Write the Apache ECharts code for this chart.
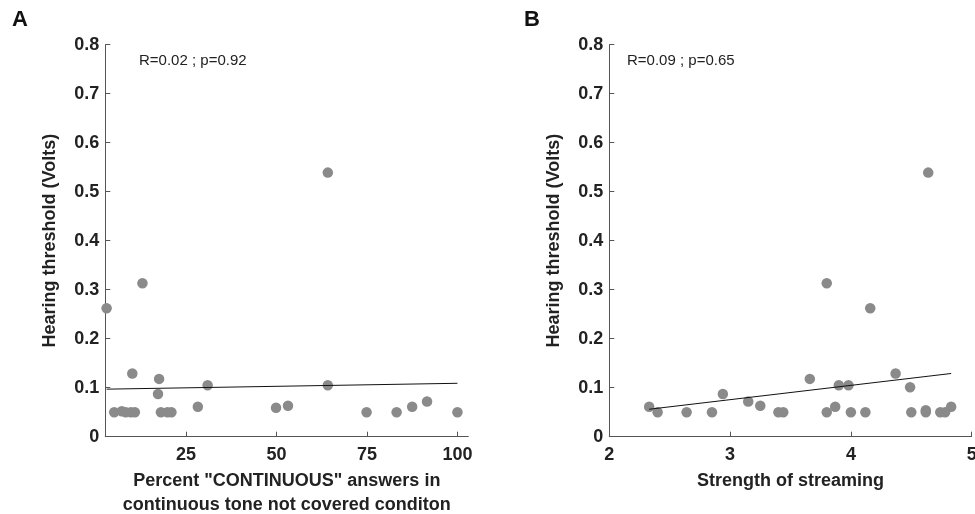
<!DOCTYPE html>
<html>
<head>
<meta charset="utf-8">
<script src="https://cdn.jsdelivr.net/npm/echarts@6/dist/echarts.min.js"></script>
<style>
html,body{margin:0;padding:0;background:#fff;}
#chart{width:975px;height:514px;}
</style>
</head>
<body>
<div id="chart"></div>
<script>
// Panel A: Percent "CONTINUOUS" answers vs hearing threshold
const aX = [3.1, 13.0, 64.2, 10.2, 17.6, 17.3, 31.0, 64.2, 5.2, 7.3, 8.4, 9.8, 10.9, 18.1, 19.9, 21.0, 28.3, 49.9, 53.2, 74.9, 83.2, 87.5, 91.6, 100];
const aY = [0.262, 0.313, 0.539, 0.129, 0.118, 0.087, 0.105, 0.105, 0.050, 0.052, 0.050, 0.050, 0.050, 0.050, 0.050, 0.050, 0.061, 0.059, 0.063, 0.050, 0.050, 0.061, 0.072, 0.050];
const aFitX = [3.1, 100];
const aFitY = [0.097, 0.109];

// Panel B: Strength of streaming vs hearing threshold
const bX = [2.33, 2.40, 2.64, 2.85, 2.94, 3.15, 3.25, 3.40, 3.44, 3.66, 3.80, 3.80, 3.87, 3.90, 3.98, 4.00, 4.12, 4.16, 4.37, 4.49, 4.50, 4.62, 4.62, 4.64, 4.74, 4.78, 4.83];
const bY = [0.061, 0.050, 0.050, 0.050, 0.087, 0.072, 0.063, 0.050, 0.050, 0.118, 0.313, 0.050, 0.061, 0.105, 0.105, 0.050, 0.050, 0.262, 0.129, 0.101, 0.050, 0.050, 0.054, 0.539, 0.050, 0.050, 0.061];
const bFitX = [2.33, 4.83];
const bFitY = [0.056, 0.129];

const yTicks = [0, 0.1, 0.2, 0.3, 0.4, 0.5, 0.6, 0.7, 0.8];
const aTicks = [25, 50, 75, 100];
const bTicks = [2, 3, 4, 5];

const yTitle = 'Hearing threshold (Volts)';
const aTitle = 'Percent "CONTINUOUS" answers in\ncontinuous tone not covered conditon';
const bTitle = 'Strength of streaming';
const aStat = 'R=0.02 ; p=0.92';
const bStat = 'R=0.09 ; p=0.65';

const zip = (xs, ys) => xs.map((x, i) => [x, ys[i]]);
const FONT = '"Liberation Sans", Arial, sans-serif';
const TXT = '#222';
const AX = '#555';

function xAxis(gi, min, max, ticks, name, gap) {
  return {
    type: 'value', gridIndex: gi, min: min, max: max,
    name: name, nameLocation: 'middle', nameGap: gap,
    nameTextStyle: {fontFamily: FONT, fontWeight: 'bold', fontSize: 18, color: TXT, lineHeight: 24},
    axisLine: {show: true, lineStyle: {color: AX, width: 1}},
    axisTick: {show: true, inside: true, length: 5, lineStyle: {color: AX}, customValues: ticks},
    axisLabel: {show: true, fontFamily: FONT, fontWeight: 'bold', fontSize: 18, color: TXT, margin: 9,
      customValues: ticks, showMinLabel: true, showMaxLabel: true},
    splitLine: {show: false}
  };
}
function yAxis(gi) {
  return {
    type: 'value', gridIndex: gi, min: 0, max: 0.8,
    name: yTitle, nameLocation: 'middle', nameGap: 46, nameRotate: 90,
    nameTextStyle: {fontFamily: FONT, fontWeight: 'bold', fontSize: 18, color: TXT, lineHeight: 18},
    axisLine: {show: true, lineStyle: {color: AX, width: 1}},
    axisTick: {show: true, inside: true, length: 5, lineStyle: {color: AX}, customValues: yTicks},
    axisLabel: {show: true, fontFamily: FONT, fontWeight: 'bold', fontSize: 18, color: TXT, margin: 6,
      customValues: yTicks, formatter: v => (v === 0 ? '0' : v.toFixed(1))},
    splitLine: {show: false}
  };
}
function scatter(gi, xs, ys) {
  return {type: 'scatter', xAxisIndex: gi, yAxisIndex: gi, data: zip(xs, ys),
    symbol: 'circle', symbolSize: 10.5, itemStyle: {color: '#8a8a8a', opacity: 1}, silent: true, z: 2};
}
function fit(gi, xs, ys) {
  return {type: 'line', xAxisIndex: gi, yAxisIndex: gi, data: zip(xs, ys),
    showSymbol: false, symbol: 'none', lineStyle: {color: '#111', width: 1}, silent: true, z: 3};
}

const chart = echarts.init(document.getElementById('chart'), null, {renderer: 'canvas'});
chart.setOption({
  animation: false,
  backgroundColor: '#fff',
  grid: [
    {left: 105.3, right: 506.7, top: 44.7, bottom: 77.3, containLabel: false, outerBoundsMode: 'none'},
    {left: 609.3, right: 3.3, top: 44.7, bottom: 77.3, containLabel: false, outerBoundsMode: 'none'}
  ],
  xAxis: [
    xAxis(0, 2.74, 103, aTicks, aTitle, 29),
    xAxis(1, 2, 5, bTicks, bTitle, 31)
  ],
  yAxis: [yAxis(0), yAxis(1)],
  series: [
    scatter(0, aX, aY), fit(0, aFitX, aFitY),
    scatter(1, bX, bY), fit(1, bFitX, bFitY)
  ],
  graphic: [
    {type: 'text', left: 12, top: 9, style: {text: 'A', font: 'bold 22px ' + FONT, fill: '#111'}},
    {type: 'text', left: 524, top: 9, style: {text: 'B', font: 'bold 22px ' + FONT, fill: '#111'}},
    {type: 'text', left: 139, top: 53, style: {text: aStat, font: '15px ' + FONT, fill: TXT}},
    {type: 'text', left: 627, top: 53, style: {text: bStat, font: '15px ' + FONT, fill: TXT}}
  ]
});
</script>
</body>
</html>
